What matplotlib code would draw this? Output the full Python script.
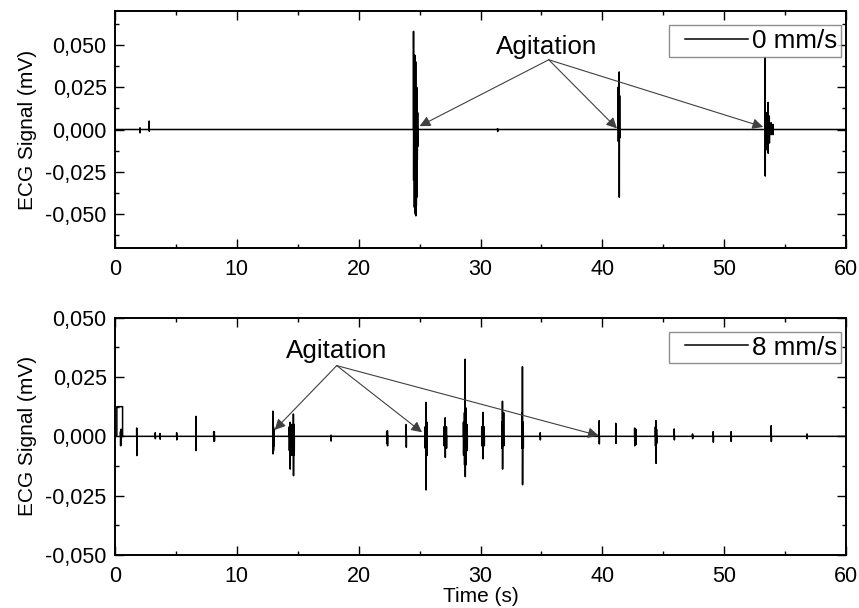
import numpy as np
import matplotlib
matplotlib.use("Agg")
import matplotlib.pyplot as plt
from matplotlib.ticker import FuncFormatter, MultipleLocator
from matplotlib.lines import Line2D
from matplotlib.legend_handler import HandlerLine2D

plt.rcParams['font.family'] = ['Liberation Sans', 'DejaVu Sans']

# spike events: time (s), positive peak, negative peak (mV)
top_t = [2.05, 2.8, 31.4,
         24.50, 24.56, 24.60, 24.64, 24.68, 24.72, 24.76, 24.80, 24.84,
         41.30, 41.34, 41.38, 41.42,
         53.36, 53.50, 53.60, 53.70, 53.85, 54.00]
top_hi = [0.001, 0.005, 0.0005,
          0.058, 0.044, 0.044, 0.042, 0.040, 0.025, 0.025, 0.024, 0.010,
          0.025, 0.025, 0.034, 0.020,
          0.0427, 0.010, 0.016, 0.008, 0.004, 0.003]
top_lo = [-0.002, -0.001, -0.0012,
          -0.030, -0.046, -0.048, -0.050, -0.051, -0.045, -0.040, -0.018, -0.010,
          -0.007, -0.007, -0.040, -0.005,
          -0.0275, -0.012, -0.014, -0.008, -0.003, -0.003]

bot_t = [0.45, 0.50, 1.78, 3.3, 3.7, 5.06, 6.65, 8.10, 8.15,
         12.95, 13.00, 13.05, 14.30, 14.37, 14.50, 14.64, 14.70,
         17.73, 22.30, 22.36, 23.90,
         25.45, 25.53, 25.60, 27.00, 27.10, 27.20,
         28.60, 28.68, 28.74, 28.80, 28.90,
         30.10, 30.20, 30.30, 31.75, 31.80, 31.90,
         33.40, 33.44, 33.50, 34.90,
         39.74, 41.10, 42.65, 42.75, 44.35, 44.40, 44.45, 45.90,
         47.40, 49.10, 50.57, 53.86, 56.80]
bot_hi = [0.002, 0.003, 0.0035, 0.0015, 0.0012, 0.0015, 0.0084, 0.002, 0.002,
          0.0106, 0.004, 0.003, 0.004, 0.0059, 0.005, 0.0094, 0.005,
          0.0005, 0.002, 0.0024, 0.005,
          0.004, 0.0143, 0.006, 0.004, 0.0078, 0.004,
          0.006, 0.010, 0.0325, 0.012, 0.005,
          0.004, 0.0101, 0.004, 0.006, 0.0148, 0.010,
          0.010, 0.0294, 0.006, 0.0015,
          0.0066, 0.0055, 0.0035, 0.003, 0.004, 0.0066, 0.003, 0.0031,
          0.001, 0.002, 0.002, 0.0045, 0.001]
bot_lo = [-0.004, -0.0035, -0.0081, -0.001, -0.0012, -0.0015, -0.006, -0.002, -0.002,
          -0.0074, -0.006, -0.004, -0.006, -0.0138, -0.008, -0.0166, -0.008,
          -0.002, -0.003, -0.004, -0.0046,
          -0.005, -0.0226, -0.008, -0.004, -0.0089, -0.005,
          -0.008, -0.012, -0.017, -0.012, -0.006,
          -0.004, -0.0095, -0.004, -0.005, -0.0138, -0.004,
          -0.005, -0.0204, -0.005, -0.0015,
          -0.0032, -0.003, -0.004, -0.0035, -0.004, -0.0114, -0.003, -0.0015,
          -0.001, -0.0025, -0.0022, -0.0022, -0.001]

# calibration pulse at the start of the 8 mm/s record
pulse_start = 0.15
pulse_end = 0.62
pulse_level = 0.0125

# annotation arrows (text spot, arrow origin, tips)
top_text = (35.45, 0.0486)
top_origin = (35.6, 0.0412)
top_tips = [(25.0, 0.002), (41.2, 0.0006), (53.2, 0.0015)]
bot_text = (18.2, 0.0359)
bot_origin = (18.2, 0.0298)
bot_tips = [(13.1, 0.0027), (25.2, 0.0017), (39.7, 0.0003)]


def make_trace(times, highs, lows, pulse=None):
    x = [0.0]
    y = [0.0]
    if pulse is not None:
        x += [pulse[0], pulse[0], pulse[1], pulse[1]]
        y += [0.0, pulse[2], pulse[2], 0.0]
    for t, h, l in sorted(zip(times, highs, lows)):
        x += [t - 0.005, t, t + 0.01, t + 0.02]
        y += [0.0, h, l, 0.0]
    x.append(60.0)
    y.append(0.0)
    return np.array(x), np.array(y)


def comma_fmt(v, pos):
    return f"{v:.3f}".replace('.', ',')


def style_axes(ax, ylim, label):
    ax.set_xlim(0, 60)
    ax.set_ylim(*ylim)
    ax.xaxis.set_major_locator(MultipleLocator(10))
    ax.xaxis.set_minor_locator(MultipleLocator(5))
    ax.yaxis.set_major_locator(MultipleLocator(0.025))
    ax.yaxis.set_minor_locator(MultipleLocator(0.0125))
    ax.yaxis.set_major_formatter(FuncFormatter(comma_fmt))
    ax.tick_params(which='both', direction='in', top=True, right=True, width=1.0)
    ax.tick_params(which='major', length=6.5, labelsize=15.5)
    ax.tick_params(axis='x', which='major', pad=8)
    ax.tick_params(axis='y', which='major', pad=6)
    ax.tick_params(which='minor', length=3)
    for s in ax.spines.values():
        s.set_linewidth(1.4)
    ax.set_ylabel('ECG Signal (mV)', fontsize=15)
    ax.yaxis.set_label_coords(-0.107, 0.5)
    leg = ax.legend([label], loc='upper right', bbox_to_anchor=(0.9935, 0.941),
                    fontsize=18.7, frameon=True, fancybox=False, handlelength=2.9,
                    handletextpad=0.15, borderpad=0.15, borderaxespad=0,
                    handler_map={Line2D: HandlerLine2D(xpad=0.45)})
    leg.get_frame().set_edgecolor('0.45')
    leg.get_frame().set_linewidth(1.0)


def annotate(ax, text_pos, origin, tips):
    ax.text(text_pos[0], text_pos[1], 'Agitation', fontsize=18.7,
            ha='center', va='center')
    for tip in tips:
        ax.annotate('', xy=tip, xytext=origin,
                    arrowprops=dict(arrowstyle='-|>', color='0.25', lw=0.8,
                                    mutation_scale=16, shrinkA=0, shrinkB=0))


fig = plt.figure(figsize=(8.59, 6.08), dpi=100)
ax1 = fig.add_axes([0.1339, 0.5921, 0.851, 0.3898])
ax2 = fig.add_axes([0.1339, 0.0872, 0.851, 0.3903])

x, y = make_trace(top_t, top_hi, top_lo)
ax1.plot(x, y, color='black', lw=1.1)
style_axes(ax1, (-0.07, 0.07), '0 mm/s')
annotate(ax1, top_text, top_origin, top_tips)

x, y = make_trace(bot_t, bot_hi, bot_lo, (pulse_start, pulse_end, pulse_level))
ax2.plot(x, y, color='black', lw=1.1)
style_axes(ax2, (-0.05, 0.05), '8 mm/s')
annotate(ax2, bot_text, bot_origin, bot_tips)
ax2.set_xlabel('Time (s)', fontsize=15, labelpad=0)

fig.savefig('out.png', dpi=100)
